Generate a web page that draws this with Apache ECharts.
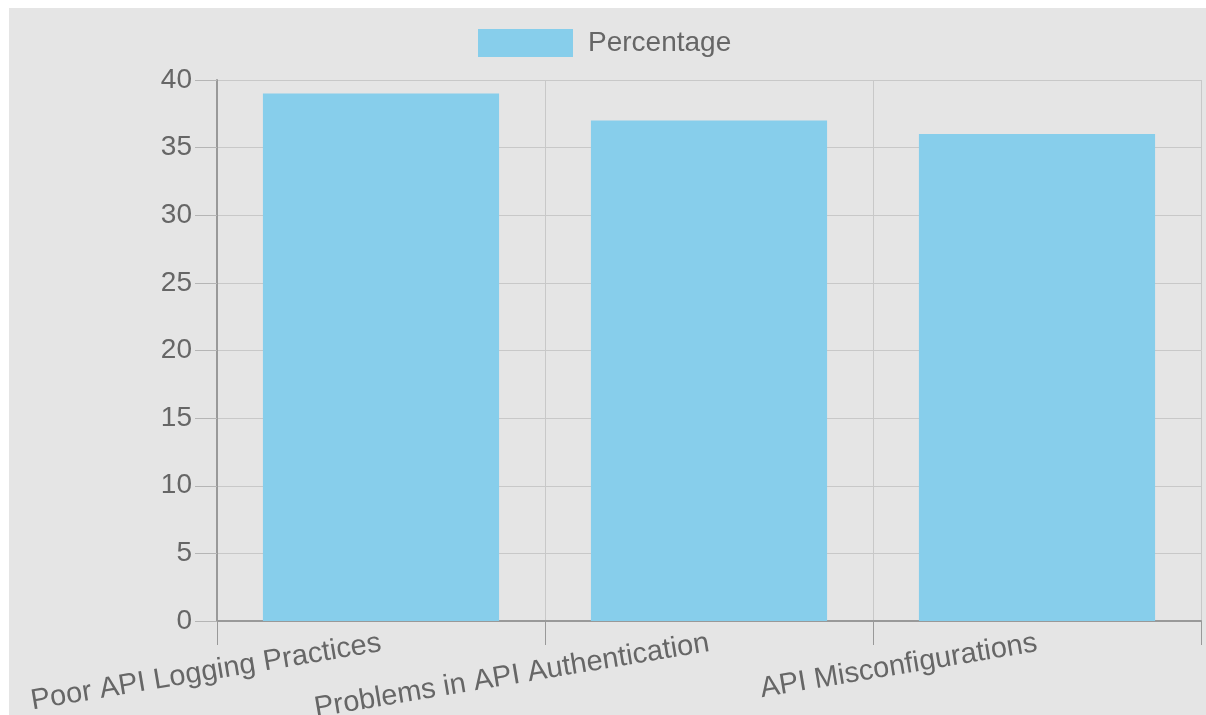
<!DOCTYPE html>
<html>
<head>
    <meta charset="UTF-8">
    <title>Percentage</title>
    <script src="https://cdn.jsdelivr.net/npm/echarts@6/dist/echarts.min.js"></script>
    <style type="text/css">
    * { margin: 0; padding: 0; }
    body { background-color: #ffffff; }
    /* chart panel */
    .panel {
        position: absolute;
        left: 9px;
        top: 8px;
        width: 1197px;
        height: 707px;
    }
    </style>
</head>
<body>
    <div id="bar" class="panel"></div>
    <script>
        var categories = ['Poor API Logging Practices', 'Problems in API Authentication', 'API Misconfigurations'];
        var percentage = [39, 37, 36];
        var yTicks = [0, 5, 10, 15, 20, 25, 30, 35, 40];

        var chart = echarts.init(document.getElementById('bar'), null, {renderer: 'canvas'});
        chart.setOption({
            backgroundColor: '#e5e5e5',
            textStyle: { fontFamily: 'Liberation Sans' },
            legend: {
                top: 16,
                left: 464,
                icon: 'rect',
                itemWidth: 95,
                itemHeight: 28,
                textStyle: { color: '#666', fontSize: 28, fontFamily: 'Liberation Sans', padding: [0, 0, 0, 10] },
                data: ['Percentage']
            },
            grid: { left: 208, right: 5, top: 72, bottom: 94, containLabel: false, outerBoundsMode: 'none' },
            xAxis: {
                type: 'category',
                data: categories,
                axisLine: { lineStyle: { color: '#999', width: 2 } },
                axisTick: { show: true, length: 24, lineStyle: { color: '#999' } },
                splitLine: { show: true, lineStyle: { color: '#c8c8c8' } },
                axisLabel: {
                    rotate: 9.5,
                    margin: 22,
                    interval: 0,
                    color: '#666',
                    fontSize: 29,
                    fontFamily: 'Liberation Sans'
                }
            },
            yAxis: {
                type: 'value',
                min: yTicks[0],
                max: yTicks[yTicks.length - 1],
                interval: 5,
                axisLine: { show: true, lineStyle: { color: '#999', width: 2 } },
                axisTick: { show: true, length: 22, lineStyle: { color: '#b5b5b5' } },
                splitLine: { show: true, lineStyle: { color: '#c8c8c8' } },
                axisLabel: { color: '#666', fontSize: 28, margin: 25, fontFamily: 'Liberation Sans' }
            },
            series: [{
                name: 'Percentage',
                type: 'bar',
                data: percentage,
                barCategoryGap: '28%',
                itemStyle: { color: '#87ceeb' }
            }]
        });
    </script>
</body>
</html>
